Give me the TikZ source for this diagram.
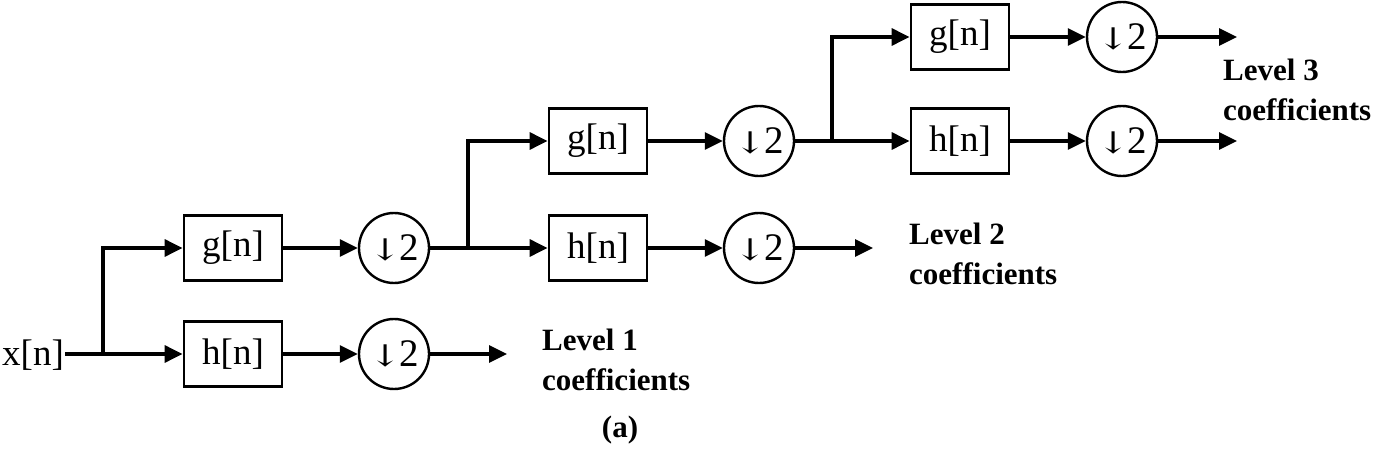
\documentclass[tikz,border=0pt]{standalone}
\usepackage{fontspec}
\setmainfont{Liberation Serif}
\newfontfamily\arrfont{DejaVu Serif}
\usetikzlibrary{arrows.meta}
\begin{document}
\begin{tikzpicture}[x=1pt,y=-1pt,
  filt/.style={draw,line width=2.8pt,minimum width=98pt,minimum height=65pt,inner sep=0pt,font=\fontsize{37}{40}\selectfont},
  down/.style={draw,circle,line width=2.4pt,minimum size=70pt,inner sep=0pt,font=\fontsize{39}{40}\selectfont},
  con/.style={line width=3.2pt,-{Triangle[length=18pt,width=17pt]}},
  ln/.style={line width=3.2pt},
  lev/.style={align=left,anchor=west,font=\bfseries\fontsize{31}{40}\selectfont,inner sep=0pt},
  sig/.style={font=\fontsize{37}{40}\selectfont,inner sep=1pt}
]
\useasboundingbox (0,0) rectangle (1385,468);
\newcommand{\dtwo}{\scalebox{1.3}[1]{\arrfont\fontsize{30}{30}\selectfont ↓}\kern-2pt 2}
% level 1
\node[sig] (x) at (33,355) {x[n]};
\coordinate (b1) at (103,354);
\node[filt] (g1) at (233,248) {g[n]};
\node[filt] (h1) at (233,354) {h[n]};
\node[down] (dg1) at (394,248) {\dtwo};
\node[down] (dh1) at (394,354) {\dtwo};
\coordinate (o1) at (507,354);
% level 2
\coordinate (b2) at (468,248);
\node[filt] (g2) at (598,141) {g[n]};
\node[filt] (h2) at (598,248) {h[n]};
\node[down] (dg2) at (759,141) {\dtwo};
\node[down] (dh2) at (759,248) {\dtwo};
\coordinate (o2) at (873,248);
% level 3
\coordinate (b3) at (832,141);
\node[filt] (g3) at (960,37) {g[n]};
\node[filt] (h3) at (960,141) {h[n]};
\node[down] (dg3) at (1122,37) {\dtwo};
\node[down] (dh3) at (1122,141) {\dtwo};
\coordinate (o3a) at (1237,37);
\coordinate (o3b) at (1237,141);
% connectors
\draw[ln] (x.east|-b1) -- (b1);
\draw[con] (b1) |- (g1.west);
\draw[con] (b1) -- (h1.west);
\draw[con] (g1.east) -- (dg1.west);
\draw[con] (h1.east) -- (dh1.west);
\draw[con] (dh1.east) -- (o1);
\draw[ln] (dg1.east) -- (b2);
\draw[con] (b2) |- (g2.west);
\draw[con] (b2) -- (h2.west);
\draw[con] (g2.east) -- (dg2.west);
\draw[con] (h2.east) -- (dh2.west);
\draw[con] (dh2.east) -- (o2);
\draw[ln] (dg2.east) -- (b3);
\draw[con] (b3) |- (g3.west);
\draw[con] (b3) -- (h3.west);
\draw[con] (g3.east) -- (dg3.west);
\draw[con] (h3.east) -- (dh3.west);
\draw[con] (dg3.east) -- (o3a);
\draw[con] (dh3.east) -- (o3b);
% labels
\node[lev] (l1) at (542,360) {Level 1\\coefficients};
\node[lev] (l2) at (909,254) {Level 2\\coefficients};
\node[lev] (l3) at (1223,90) {Level 3\\coefficients};
\node[font=\bfseries\fontsize{31}{40}\selectfont,inner sep=0pt] (cap) at (620,430) {(a)};
\end{tikzpicture}
\end{document}
